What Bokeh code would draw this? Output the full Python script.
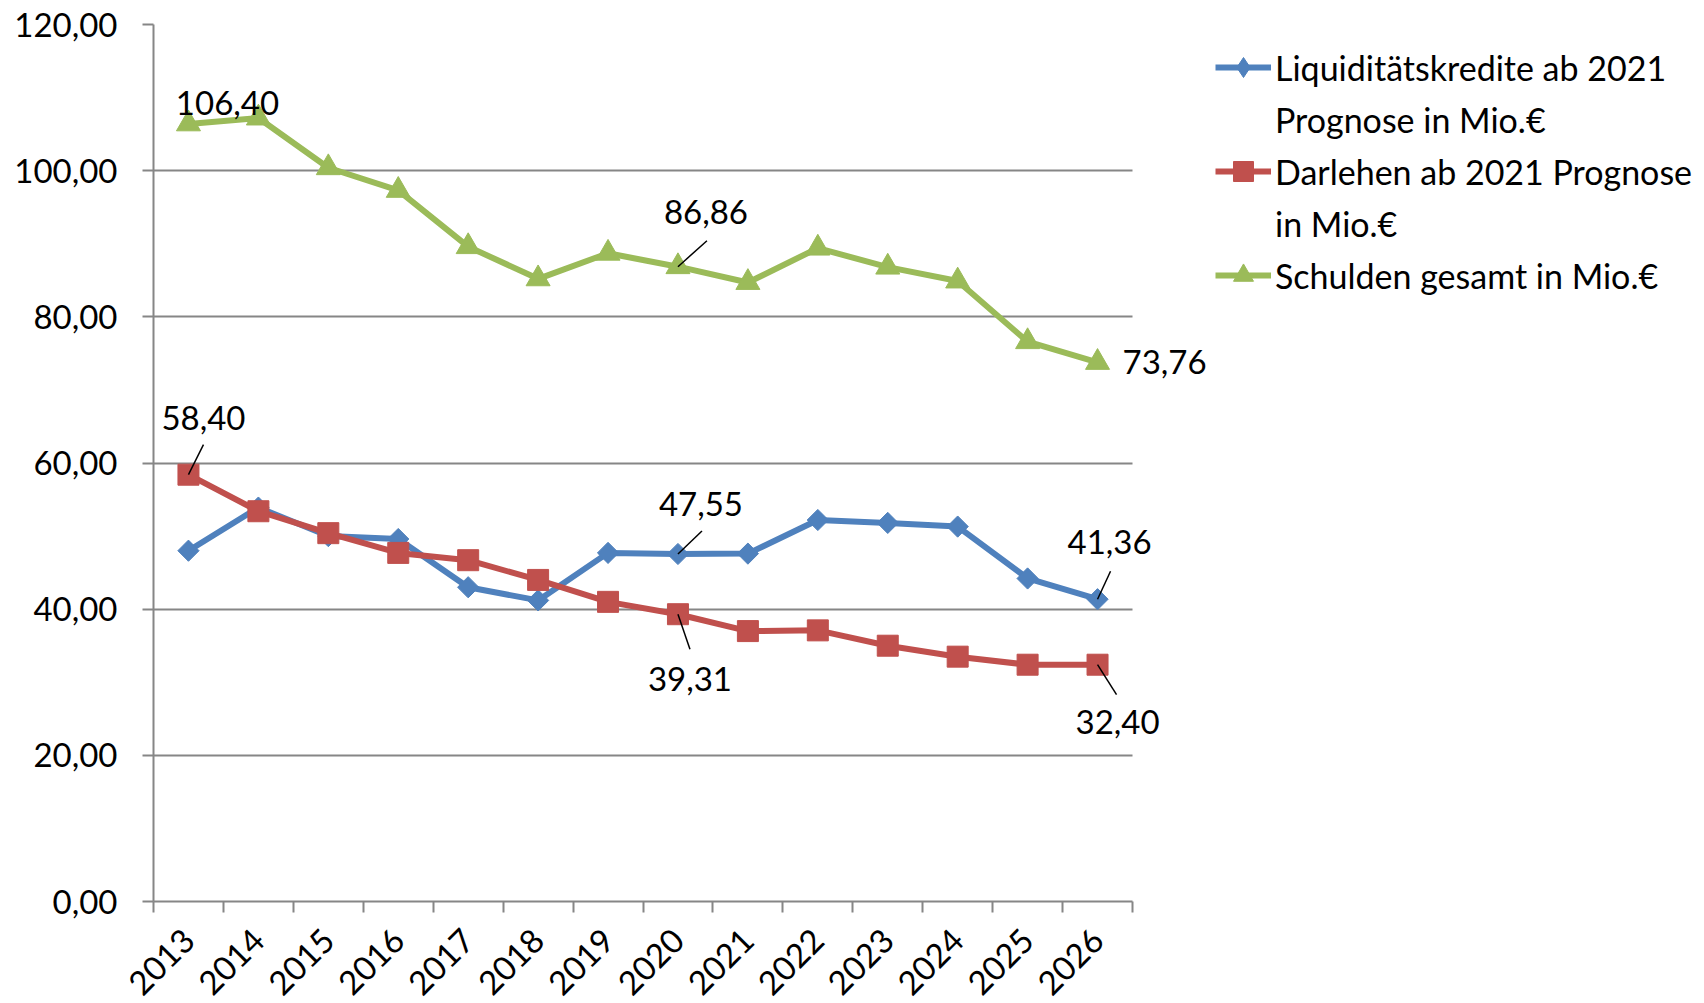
import math
from bokeh.plotting import figure
from bokeh.models import (Range1d, LinearAxis, FixedTicker, Legend, LegendItem)
from bokeh.core.properties import value
from bokeh.embed import file_html
from bokeh.resources import INLINE

# ---------------- data ----------------
years = [str(y) for y in range(2013, 2027)]
liquiditaet = [48.00, 53.9, 50.0, 49.6, 43.0, 41.2, 47.7, 47.55, 47.6, 52.2, 51.8, 51.3, 44.2, 41.36]
darlehen = [58.40, 53.4, 50.4, 47.7, 46.7, 44.0, 41.0, 39.31, 37.0, 37.1, 35.0, 33.5, 32.4, 32.40]
gesamt = [106.40, 107.2, 100.4, 97.3, 89.6, 85.2, 88.7, 86.86, 84.7, 89.4, 86.8, 84.9, 76.6, 73.76]
y_ticks = [0, 20, 40, 60, 80, 100, 120]
y_tick_labels = ["0,00", "20,00", "40,00", "60,00", "80,00", "100,00", "120,00"]
# legend texts, one list of wrapped lines per series
series_names = [["Liquiditätskredite ab 2021", "Prognose in Mio.€"],
                ["Darlehen ab 2021 Prognose", "in Mio.€"],
                ["Schulden gesamt in Mio.€"]]

# which points carry a data label: (series index, year)
labelled_points = [(2, "2013"), (2, "2020"), (2, "2026"),
                   (1, "2013"), (0, "2020"), (1, "2020"), (0, "2026"), (1, "2026")]

# ---------------- styles ----------------
FONT = "Lato"
FS = "33px"
GRAY = "#868686"
colors = ["#4F81BD", "#C0504D", "#9BBB59"]
# label offsets (screen px, +y = down) and leader lines (dx, dy) per labelled point
label_offsets = [(39, -21), (28, -55), (67, 0), (15, -57), (23, -50), (12, 65), (12, -57), (20, 57)]
leaders = [None, (29, -26), None, (15, -30), (24, -23), (12, 35), (13, -28), (19, 30)]

series = [liquiditaet, darlehen, gesamt]
n = len(years)
xpos = list(range(n))                     # category index positions

PLOT_W = 979                              # width of the category area in px
FRAME_W = 1545                            # frame also hosts labels + legend on the right
x_end = -0.5 + n * FRAME_W / PLOT_W

p = figure(frame_width=FRAME_W, frame_height=877,
           x_range=Range1d(-0.5, x_end), y_range=Range1d(0, 120),
           x_axis_location=None, output_backend="svg", toolbar_location=None,
           min_border_left=153, min_border_top=24, min_border_bottom=0, min_border_right=0)
p.outline_line_color = None
p.background_fill_color = "white"
p.border_fill_color = "white"

# y axis
ya = p.yaxis[0]
ya.ticker = FixedTicker(ticks=y_ticks)
ya.major_label_overrides = {t: l for t, l in zip(y_ticks, y_tick_labels)}
ya.major_tick_out = 11
ya.major_tick_in = 0
ya.minor_tick_line_color = None
ya.axis_line_color = GRAY
ya.axis_line_width = 2
ya.major_tick_line_color = GRAY
ya.major_tick_line_width = 2
ya.major_label_standoff = 25
ya.major_label_text_font = FONT
ya.major_label_text_font_size = FS
ya.major_label_text_color = "black"

p.ygrid.ticker = FixedTicker(ticks=y_ticks)
p.ygrid.grid_line_color = GRAY
p.ygrid.grid_line_width = 2
p.ygrid.cross_bounds = (-0.5, n - 0.5)
for g in p.xgrid:
    g.visible = False

# x axis: tick marks between categories + rotated labels at category centres
edges = [i - 0.5 for i in range(n + 1)]
edge_axis = LinearAxis(ticker=FixedTicker(ticks=edges), bounds=(-0.5, n - 0.5),
                       major_label_overrides={e: "" for e in edges},
                       major_tick_out=11, major_tick_in=0, minor_tick_line_color=None,
                       major_label_standoff=0,
                       axis_line_color=GRAY, axis_line_width=2,
                       major_tick_line_color=GRAY, major_tick_line_width=2)
p.add_layout(edge_axis, "below")
cat_axis = LinearAxis(ticker=FixedTicker(ticks=xpos), bounds=(-0.5, n - 0.5),
                      major_label_overrides={i: y for i, y in zip(xpos, years)},
                      axis_line_color=None, major_tick_line_color=None, minor_tick_line_color=None,
                      major_label_orientation=math.pi / 4,
                      major_label_text_font=FONT, major_label_text_font_size=FS,
                      major_label_text_color="black", major_label_standoff=16)
p.add_layout(cat_axis, "below")

# series: line, (legend marker hidden beneath), visible marker
markers = [("square", 15, math.pi / 4), ("square", 21, 0), ("triangle", 24, 0)]
legend_markers = ["diamond", None, None]
blank = p.line(x=[], y=[], line_alpha=0)
items = []
for vals, col, (mk, sz, ang), lmk, name in zip(series, colors, markers, legend_markers, series_names):
    lr = p.line(x=xpos, y=vals, line_color=col, line_width=6, line_join="round")
    lm = None
    if lmk is not None:
        lm = p.scatter(x=xpos, y=vals, marker=lmk, size=16, fill_color=col, line_color=col)
    sr = p.scatter(x=xpos, y=vals, marker=mk, size=sz, angle=ang,
                   fill_color=col, line_color=col, line_width=1)
    items.append(LegendItem(label=name[0], renderers=[lr, lm if lm is not None else sr]))
    for extra in name[1:]:
        items.append(LegendItem(label=extra, renderers=[blank]))

# data labels & leader lines
for (si, yr), (ox, oy), ld in zip(labelled_points, label_offsets, leaders):
    i = years.index(yr)
    v = series[si][i]
    txt = f"{v:.2f}".replace(".", ",")
    p.text(x=[xpos[i]], y=[v], text=[txt], x_offset=ox, y_offset=oy,
           text_align="center", text_baseline="middle",
           text_font=value(FONT), text_font_size=FS, text_color="black")
    if ld is not None:
        dx, dy = ld
        p.ray(x=[xpos[i]], y=[v], length=math.hypot(dx, dy), length_units="screen",
              angle=math.atan2(-dy, dx), line_color="black", line_width=1.5)

legend = Legend(items=items, location=(1062, 601), margin=0, padding=0,
                border_line_color=None, background_fill_alpha=0,
                glyph_width=56, glyph_height=50, label_standoff=4, spacing=2,
                label_text_font=FONT, label_text_font_size="34px", label_text_color="black")
p.add_layout(legend, "center")

open("out.html", "w").write(file_html(p, INLINE))
